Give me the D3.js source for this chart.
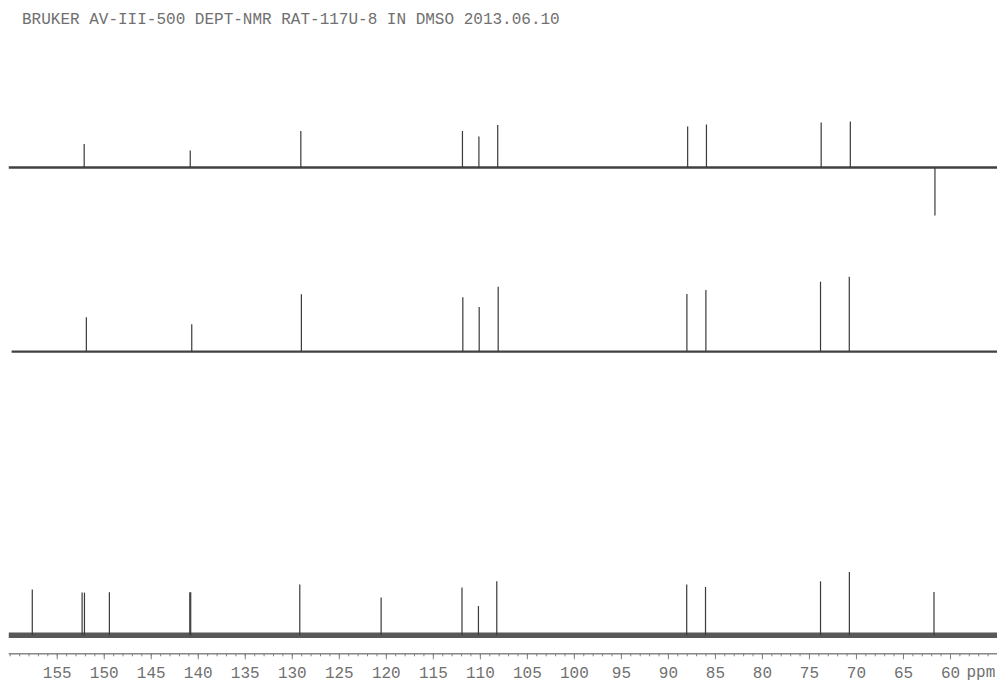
<!DOCTYPE html>
<html>
<head>
<meta charset="utf-8">
<script src="https://cdn.jsdelivr.net/npm/d3@7"></script>
<style>
  body { margin: 0; background: #fff; }
  svg { display: block; }
  .axisText { font-family: "Liberation Mono", "DejaVu Sans Mono", monospace; font-size: 16px; fill: #707070; }
</style>
</head>
<body>
<div id="spectrum"></div>
<script>
// Chart Params
var svgWidth = 997;
var svgHeight = 683;

var title = "BRUKER AV-III-500 DEPT-NMR RAT-117U-8 IN DMSO 2013.06.10";

// ppm window of the plot
var ppmRange = [160.15, 55];

// tick values (ppm)
var majorTicks = [155, 150, 145, 140, 135, 130, 125, 120, 115, 110, 105, 100, 95, 90, 85, 80, 75, 70, 65, 60];
var minorTicks = d3.range(55, 161, 1);

// top trace: DEPT-135 (CH up, CH2 down)
var dept135Ppm = [152.08, 140.8, 129.04, 111.85, 110.1, 108.1, 87.9, 85.9, 73.7, 70.6, 61.6];
var dept135Int = [23.5, 17, 36.5, 36.5, 31, 42.5, 41, 43, 45, 46, -48];

// middle trace: DEPT-90 (CH only)
var dept90Ppm = [151.85, 140.64, 128.98, 111.81, 110.07, 108.05, 87.98, 85.96, 73.77, 70.71];
var dept90Int = [34.4, 27.4, 57.4, 54.4, 44.7, 65, 57.7, 61.7, 70, 75];

// bottom trace: broadband 13C
var c13Ppm = [157.6, 152.3, 152.05, 149.4, 140.85, 140.75, 129.15, 120.5, 111.9, 110.15, 108.2, 88.0, 86.0, 73.77, 70.7, 61.7];
var c13Int = [45.7, 42.7, 42.7, 43, 43, 43, 50.7, 37.7, 47.7, 29.3, 54, 50.7, 48.3, 54, 63.3, 43.3];

var traces = [
    { ppm: dept135Ppm, intensity: dept135Int, baseline: 167.5, start: 160.1, noise: 2.6, alpha: 0.8 },
    { ppm: dept90Ppm, intensity: dept90Int, baseline: 351.7, start: 159.8, noise: 2.2, alpha: 0.8 },
    { ppm: c13Ppm, intensity: c13Int, baseline: 635.3, start: 160.1, noise: 5.5, alpha: 0.7 }
];

var svg = d3.select("#spectrum")
    .append("svg")
    .attr("width", svgWidth)
    .attr("height", svgHeight);

// scales
var x = d3.scaleLinear()
    .domain(ppmRange)
    .range([8.3, 997]);

// relative intensity -> pixels above the baseline
var y = d3.scaleLinear()
    .domain([0, 100])
    .range([0, -100]);

// title
svg.append("text")
    .attr("class", "axisText")
    .attr("x", 22)
    .attr("y", 23.5)
    .text(title);

// draw each spectrum
traces.forEach(function(t) {
    var g = svg.append("g")
        .attr("transform", `translate(0, ${t.baseline})`);

    // baseline (noise band)
    g.append("path")
        .datum([t.start, ppmRange[1]])
        .attr("d", d3.line().x(d => x(d)).y(y(0)))
        .attr("stroke", "#111")
        .attr("stroke-opacity", t.alpha)
        .attr("stroke-width", t.noise)
        .attr("fill", "none");

    // peaks
    g.selectAll("line.peak")
        .data(t.ppm.map((p, i) => ({ ppm: p, h: t.intensity[i] })))
        .enter()
        .append("line")
        .attr("class", "peak")
        .attr("x1", d => x(d.ppm))
        .attr("x2", d => x(d.ppm))
        .attr("y1", y(0))
        .attr("y2", d => y(d.h))
        .attr("stroke", "#3a3a3a")
        .attr("stroke-width", 1.2);
});

// x axis
var axisY = 653.3;

var minorAxis = d3.axisBottom(x)
    .tickValues(minorTicks)
    .tickSize(3)
    .tickSizeOuter(0)
    .tickFormat("");

var majorAxis = d3.axisBottom(x)
    .tickValues(majorTicks)
    .tickSize(6)
    .tickSizeOuter(0)
    .tickPadding(7)
    .tickFormat(d3.format("d"));

var gMinor = svg.append("g")
    .attr("transform", `translate(0, ${axisY})`)
    .call(minorAxis);

var gMajor = svg.append("g")
    .attr("transform", `translate(0, ${axisY})`)
    .call(majorAxis);

[gMinor, gMajor].forEach(function(g) {
    g.select(".domain").attr("stroke", "#808080");
    g.selectAll(".tick line").attr("stroke", "#808080");
});

gMajor.selectAll(".tick text")
    .attr("class", "axisText")
    .attr("font-family", null)
    .attr("font-size", null)
    .attr("fill", null);

svg.append("text")
    .attr("class", "axisText")
    .attr("x", 966.5)
    .attr("y", 677)
    .text("ppm");
</script>
</body>
</html>
